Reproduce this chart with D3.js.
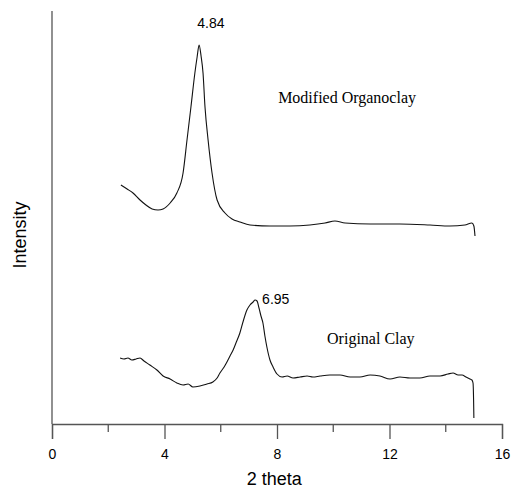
<!DOCTYPE html>
<html>
<head>
<meta charset="utf-8">
<script src="https://cdn.jsdelivr.net/npm/d3@7"></script>
<style>
  body { margin: 0; background: #fff; }
  svg { display: block; }
</style>
</head>
<body>
<div id="chart"></div>
<script>
// 2 theta values and intensities (arbitrary units)
const organoTheta = [2.45, 2.67, 2.88, 3.13, 3.34, 3.56, 3.77, 3.95, 4.20, 4.44, 4.66, 4.80, 4.94, 5.08, 5.16, 5.23,
    5.30, 5.37, 5.44, 5.55, 5.69, 5.87, 6.15, 6.40, 6.68, 7.04, 7.75, 8.46, 9.17, 9.71, 10.06, 10.42,
    11.31, 12.37, 13.44, 14.15, 14.68, 14.93, 15.00, 15.04];
const organoIntensity = [239, 235, 231, 224, 219, 215, 214, 215, 221, 231, 251, 284, 317, 351, 367, 379,
    368, 351, 317, 284, 251, 224, 211, 205, 202, 199, 198, 198, 199, 201, 203, 201,
    200, 200, 199, 198, 199, 201, 198, 188];

const clayTheta = [2.42, 2.56, 2.70, 2.84, 2.99, 3.13, 3.27, 3.48, 3.73, 3.95, 4.20, 4.44, 4.66, 4.84, 5.01, 5.26,
    5.51, 5.72, 5.87, 5.97, 6.12, 6.22, 6.33, 6.44, 6.54, 6.68, 6.79, 6.93, 7.04, 7.15, 7.22, 7.29,
    7.36, 7.43, 7.50, 7.57, 7.64, 7.75, 7.86, 8.00, 8.18, 8.36, 8.57, 8.82, 9.07, 9.28, 9.53, 9.88,
    10.24, 10.60, 10.95, 11.31, 11.66, 12.02, 12.37, 12.73, 13.08, 13.44, 13.80, 14.08, 14.26, 14.44,
    14.58, 14.72, 14.86, 14.93, 14.97, 14.99, 15.00];
const clayIntensity = [66, 65, 66, 64, 65, 66, 63, 59, 54, 48, 45, 41, 39, 40, 37, 38,
    40, 42, 46, 51, 57, 62, 68, 74, 81, 91, 102, 114, 119, 122, 124, 123,
    116, 108, 101, 88, 77, 64, 57, 50, 47, 48, 46, 47, 48, 47, 48, 49,
    49, 47, 47, 49, 48, 45, 47, 46, 46, 48, 48, 50, 51, 49,
    49, 47, 45, 44, 41, 24, 6];

const xTicks = [0, 4, 8, 12, 16];
const xMinorTicks = [2, 6, 10, 14];

const width = 514, height = 491;
const margin = { left: 52, right: 12, top: 11, bottom: 67 };

const svg = d3.select("#chart")
    .append("svg")
    .attr("width", width)
    .attr("height", height);

const x = d3.scaleLinear().domain([0, 16]).range([margin.left, width - margin.right]);
const y = d3.scaleLinear().domain([0, 413]).range([height - margin.bottom, margin.top]);

const axisColor = "#555";

// axe des x : grands traits avec étiquettes, petits traits sans
const xAxis = svg.append("g")
    .attr("transform", `translate(0,${y(0)})`)
    .call(d3.axisBottom(x).tickValues(xTicks).tickSize(15).tickPadding(10).tickFormat(d3.format("d")));
xAxis.select(".domain").attr("stroke", axisColor).attr("stroke-width", 1.3);
xAxis.selectAll(".tick line").attr("stroke", axisColor).attr("stroke-width", 1.3);
xAxis.selectAll(".tick text")
    .attr("fill", "#000")
    .style("font-family", "Arial, 'Liberation Sans', sans-serif")
    .style("font-size", "14px");

svg.append("g")
    .attr("transform", `translate(0,${y(0)})`)
    .selectAll("line")
    .data(xMinorTicks)
    .join("line")
    .attr("x1", d => x(d)).attr("x2", d => x(d))
    .attr("y1", 0).attr("y2", 8)
    .attr("stroke", axisColor)
    .attr("stroke-width", 1.3);

// axe des y sans graduations
svg.append("line")
    .attr("x1", x(0)).attr("x2", x(0))
    .attr("y1", y(0)).attr("y2", y(413))
    .attr("stroke", axisColor)
    .attr("stroke-width", 1.3);

const line = d3.line()
    .curve(d3.curveMonotoneX)
    .x(d => x(d[0]))
    .y(d => y(d[1]));

const curves = [
    d3.zip(organoTheta, organoIntensity),
    d3.zip(clayTheta, clayIntensity)
];

svg.selectAll(".trace")
    .data(curves)
    .join("path")
    .attr("class", "trace")
    .attr("d", line)
    .attr("fill", "none")
    .attr("stroke", "#111")
    .attr("stroke-width", 1.1)
    .attr("stroke-linejoin", "round");

// étiquettes des pics
const sans = "Arial, 'Liberation Sans', sans-serif";
const serif = "'Times New Roman', 'Liberation Serif', serif";

svg.append("text")
    .attr("x", x(5.65)).attr("y", 28)
    .attr("text-anchor", "middle")
    .style("font-family", sans).style("font-size", "14px")
    .text("4.84");

svg.append("text")
    .attr("x", x(7.47)).attr("y", 304)
    .style("font-family", sans).style("font-size", "14px")
    .text("6.95");

svg.append("text")
    .attr("x", x(8.04)).attr("y", 103)
    .style("font-family", serif).style("font-size", "16px")
    .text("Modified Organoclay");

svg.append("text")
    .attr("x", x(9.78)).attr("y", 344)
    .style("font-family", serif).style("font-size", "16px")
    .text("Original Clay");

// titres des axes
svg.append("text")
    .attr("x", x(7.9)).attr("y", 485)
    .attr("text-anchor", "middle")
    .style("font-family", sans).style("font-size", "18px")
    .text("2 theta");

svg.append("text")
    .attr("transform", `translate(26,235) rotate(-90)`)
    .attr("text-anchor", "middle")
    .style("font-family", sans).style("font-size", "18px")
    .text("Intensity");
</script>
</body>
</html>
